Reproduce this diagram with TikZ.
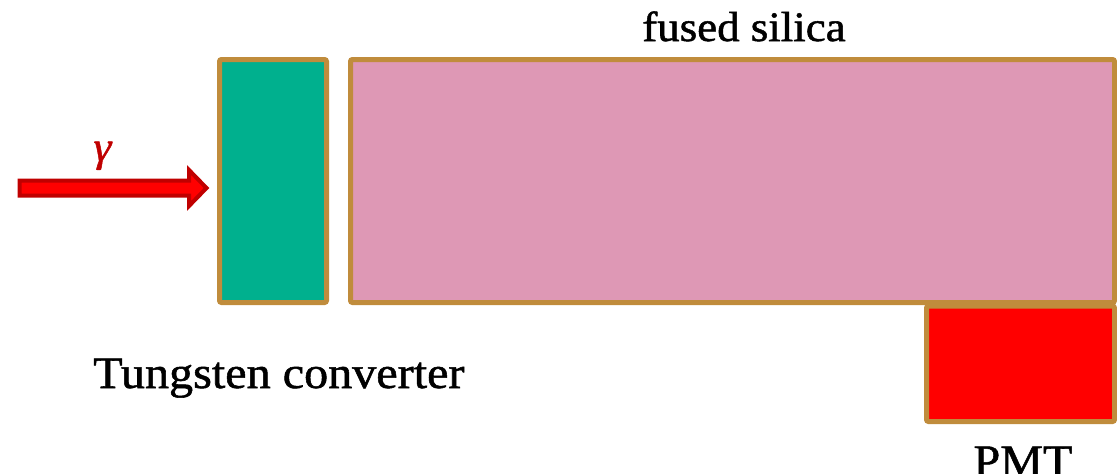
\documentclass[tikz,border=0pt]{standalone}
\usepackage{fontspec}
\setmainfont[FakeStretch=1.07,FakeBold=1.2]{Liberation Serif}
\definecolor{frame}{RGB}{192,140,60}
\definecolor{tung}{RGB}{0,176,142}
\definecolor{silica}{RGB}{222,152,181}
\definecolor{pmtred}{RGB}{255,0,0}
\definecolor{darkred}{RGB}{192,0,0}
\begin{document}
\begin{tikzpicture}[x=1pt,y=-1pt,
  block/.style={draw=frame,line width=5pt,rounded corners=2pt,inner sep=0pt,outer sep=0pt},
  lbl/.style={font=\fontsize{45}{54}\selectfont,inner sep=0pt}]
\useasboundingbox (0,0) rectangle (1117,474);
\node[block,fill=tung,minimum width=107pt,minimum height=243pt] (tung) at (273,181) {};
\node[block,fill=silica,minimum width=764pt,minimum height=243pt] (silica) at (732.5,181) {};
\node[block,fill=pmtred,minimum width=188pt,minimum height=115.5pt] (pmt) at (1020.5,363.75) {};
\draw[draw=darkred,fill=pmtred,line width=4pt,line join=miter]
  (19.5,180.5) -- (189,180.5) -- (189,170) -- (206.5,188) -- (189,206) -- (189,195.5) -- (19.5,195.5) -- cycle;
\coordinate (tip) at (206.5,188);
\node[inner sep=0pt,text=darkred,font=\fontsize{42}{46}\selectfont,anchor=base] (gamma) at (103,161) {\textit{γ}};
\node[lbl,anchor=base west] (tlabel) at (93,388) {Tungsten converter};
\node[lbl,anchor=base,font=\fontsize{42}{50}\selectfont] (slabel) at (744,41) {fused silica};
\node[lbl,anchor=base] (plabel) at (1023,476) {PMT};
\end{tikzpicture}
\end{document}
